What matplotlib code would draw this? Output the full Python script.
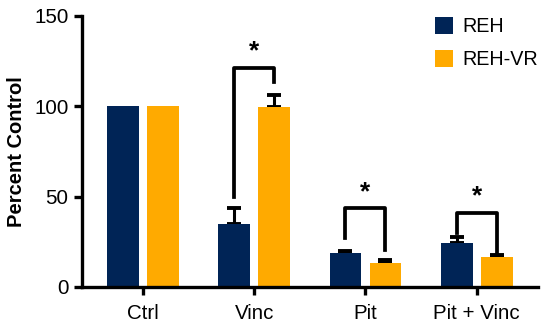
import numpy as np
import matplotlib.pyplot as plt

plt.rcParams['font.family'] = ['Liberation Sans', 'DejaVu Sans']

categories = ["Ctrl", "Vinc", "Pit", "Pit + Vinc"]
series = ["REH", "REH-VR"]
reh = [100, 35, 19, 24.5]
reh_err = [0, 8.5, 1, 3]
rehvr = [100, 99.5, 13.5, 16.5]
rehvr_err = [0, 7, 1.2, 1.3]
colors = ["#002456", "#FFAA00"]

# significance brackets: (category index, left leg bottom, top, right leg bottom)
brackets = [(1, 50, 121, 113.5), (2, 27, 43.5, 20.5), (3, 30, 41, 19)]

fig = plt.figure(figsize=(5.5, 3.31), dpi=100)
ax = fig.add_axes([0.1485, 0.133, 0.8295, 0.819])

x = np.arange(len(categories))
off = 0.18
w = 0.285
ax.bar(x - off, reh, w, color=colors[0], label=series[0], zorder=2)
ax.bar(x + off, rehvr, w, color=colors[1], label=series[1], zorder=2)

err_kw = dict(fmt='none', ecolor='black', elinewidth=2.2, capsize=5, capthick=2.8, zorder=1)
ax.errorbar(x[1:] - off, reh[1:], yerr=[np.zeros(3), reh_err[1:]], **err_kw)
ax.errorbar(x[1:] + off, rehvr[1:], yerr=[np.zeros(3), rehvr_err[1:]], **err_kw)

for i, lo_l, top, lo_r in brackets:
    ax.plot([i - off, i - off, i + off, i + off], [lo_l, top, top, lo_r],
            color='black', lw=2.7, solid_joinstyle='round', zorder=3)
    ax.text(i, top + 2.5, "*", ha='center', va='bottom', fontsize=19, fontweight='bold')

ax.set_xlim(-0.55, 3.55)
ax.set_ylim(0, 150)
ax.set_yticks([0, 50, 100, 150])
ax.set_xticks(x)
ax.set_xticklabels(categories)
ax.set_ylabel("Percent Control", fontsize=14.5, fontweight='bold', labelpad=6)
ax.tick_params(axis='both', labelsize=14.8, width=2.4, length=6, color='black')
ax.tick_params(axis='x', pad=6)
for s in ['top', 'right']:
    ax.spines[s].set_visible(False)
for s in ['left', 'bottom']:
    ax.spines[s].set_linewidth(2.4)

ax.legend(loc='upper right', bbox_to_anchor=(1.04, 1.06), frameon=False, fontsize=14.2,
          handlelength=0.9, handleheight=0.9, handletextpad=0.5, labelspacing=0.7)

fig.savefig("out.png", dpi=100)
